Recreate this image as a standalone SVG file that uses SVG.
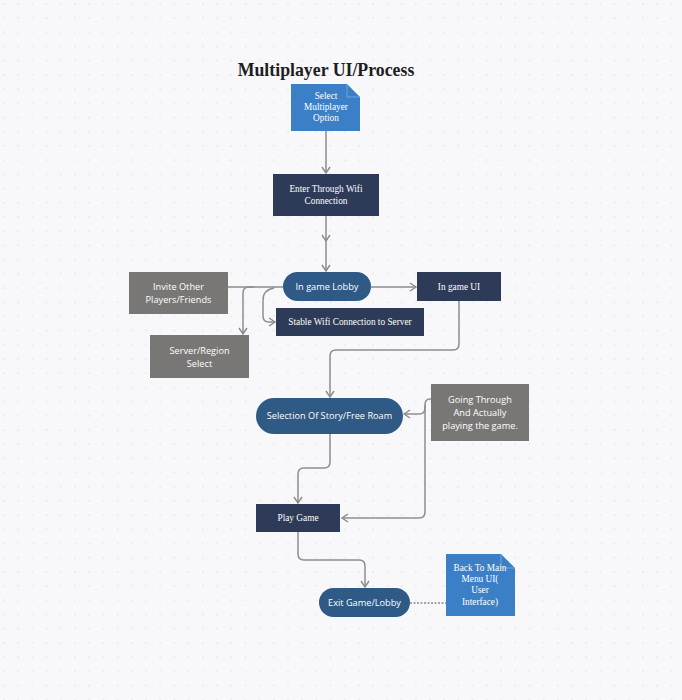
<svg xmlns="http://www.w3.org/2000/svg" width="682" height="700" viewBox="0 0 682 700">
<defs>
<pattern id="dots" x="3" y="3" width="14.2" height="14.2" patternUnits="userSpaceOnUse">
<circle cx="1" cy="1" r="0.9" fill="#e6e7ed"/>
</pattern>
<marker id="arr" markerWidth="10" markerHeight="10" refX="8" refY="5" orient="auto" markerUnits="userSpaceOnUse">
<path d="M2,1 L8,5 L2,9" fill="none" stroke="#8a8a8a" stroke-width="1.4"/>
</marker>
<style>
.bg{fill:#f8f8fa}
.con{fill:none;stroke:#8d8d8d;stroke-width:1.5}
.navy{fill:#2d3a58}
.pill{fill:#2e5a85}
.gray{fill:#797775}
.doc{fill:#3b80c6}
.serif{font-family:"Liberation Serif","Times New Roman",serif;fill:#ffffff;font-size:9.3px;text-anchor:middle}
.sans{font-family:"Open Sans","Noto Sans",sans-serif;fill:#ffffff;font-size:9.2px;text-anchor:middle}
.title{font-family:"Liberation Serif","Times New Roman",serif;font-weight:bold;font-size:17.8px;fill:#1e1e1e;text-anchor:middle}
</style>
</defs>
<rect class="bg" x="0" y="0" width="682" height="700"/>
<rect fill="url(#dots)" x="0" y="0" width="682" height="700"/>
<text class="title" x="326" y="76">Multiplayer UI/Process</text>

<g id="connectors">
<path class="con" d="M326,131 V173" marker-end="url(#arr)"/>
<path class="con" d="M326,216 V241" marker-end="url(#arr)"/>
<path class="con" d="M326,240 V271" marker-end="url(#arr)"/>
<path class="con" d="M228,287 H283"/>
<path class="con" d="M254,287 H249 Q243,287 243,293 V334" marker-end="url(#arr)"/>
<path class="con" d="M274,288 Q263,290 263,300 V316 Q263,322 269,322 H275" marker-end="url(#arr)"/>
<path class="con" d="M371,287 H416" marker-end="url(#arr)"/>
<path class="con" d="M459,301 V344 Q459,350 453,350 H336 Q330,350 330,356 V397" marker-end="url(#arr)"/>
<path class="con" d="M431,399 H430 Q425,399 425,405 V408 Q425,414 419,414 H404" marker-end="url(#arr)"/>
<path class="con" d="M425,405 V512 Q425,518 419,518 H342" marker-end="url(#arr)"/>
<path class="con" d="M330,434 V462 Q330,468 324,468 H304 Q298,468 298,474 V503" marker-end="url(#arr)"/>
<path class="con" d="M298,532 V554 Q298,560 304,560 H359 Q365,560 365,566 V587" marker-end="url(#arr)"/>
<path d="M410,603 H446" fill="none" stroke="#555" stroke-width="1.2" stroke-dasharray="2,1.5"/>
</g>

<g id="select">
<path class="doc" d="M291,84 H347 L360,97 V131 H291 Z"/>
<path d="M347,84 V97 H360" fill="none" stroke="#7fb0e0" stroke-width="0.8"/>
<text class="serif" x="326" y="99">Select</text>
<text class="serif" x="326" y="110">Multiplayer</text>
<text class="serif" x="326" y="121">Option</text>
</g>

<g id="enter">
<rect class="navy" x="273" y="174" width="106" height="42"/>
<text class="serif" x="326" y="192">Enter Through Wifi</text>
<text class="serif" x="326" y="204">Connection</text>
</g>

<g id="lobby">
<rect class="pill" x="283" y="272" width="88" height="29" rx="14.5"/>
<text class="sans" x="327" y="290">In game Lobby</text>
</g>

<g id="invite">
<rect class="gray" x="129" y="272" width="99" height="42"/>
<text class="sans" x="178.5" y="290">Invite Other</text>
<text class="sans" x="178.5" y="303">Players/Friends</text>
</g>

<g id="server">
<rect class="gray" x="150" y="335" width="99" height="43"/>
<text class="sans" x="199.5" y="354">Server/Region</text>
<text class="sans" x="199.5" y="367">Select</text>
</g>

<g id="ingameui">
<rect class="navy" x="417" y="272" width="84" height="29"/>
<text class="serif" x="459" y="290">In game UI</text>
</g>

<g id="stable">
<rect class="navy" x="276" y="308" width="148" height="28"/>
<text class="serif" x="350" y="325">Stable Wifi Connection to Server</text>
</g>

<g id="selection">
<rect class="pill" x="256" y="398" width="147" height="36" rx="18"/>
<text class="sans" x="329.5" y="419">Selection Of Story/Free Roam</text>
</g>

<g id="going">
<rect class="gray" x="431" y="384" width="98" height="57"/>
<text class="sans" x="480" y="403">Going Through</text>
<text class="sans" x="480" y="416">And Actually</text>
<text class="sans" x="480" y="429">playing the game.</text>
</g>

<g id="play">
<rect class="navy" x="256" y="504" width="84" height="28"/>
<text class="serif" x="298" y="521">Play Game</text>
</g>

<g id="exit">
<rect class="pill" x="319" y="588" width="91" height="29" rx="14.5"/>
<text class="sans" x="364.5" y="606">Exit Game/Lobby</text>
</g>

<g id="back">
<path class="doc" d="M446,554 H501 L515,568 V616 H446 Z"/>
<path d="M501,554 V568 H515" fill="none" stroke="#7fb0e0" stroke-width="0.8"/>
<text class="serif" x="480" y="571">Back To Main</text>
<text class="serif" x="480" y="582">Menu UI(</text>
<text class="serif" x="480" y="593">User</text>
<text class="serif" x="480" y="605">Interface)</text>
</g>
</svg>
